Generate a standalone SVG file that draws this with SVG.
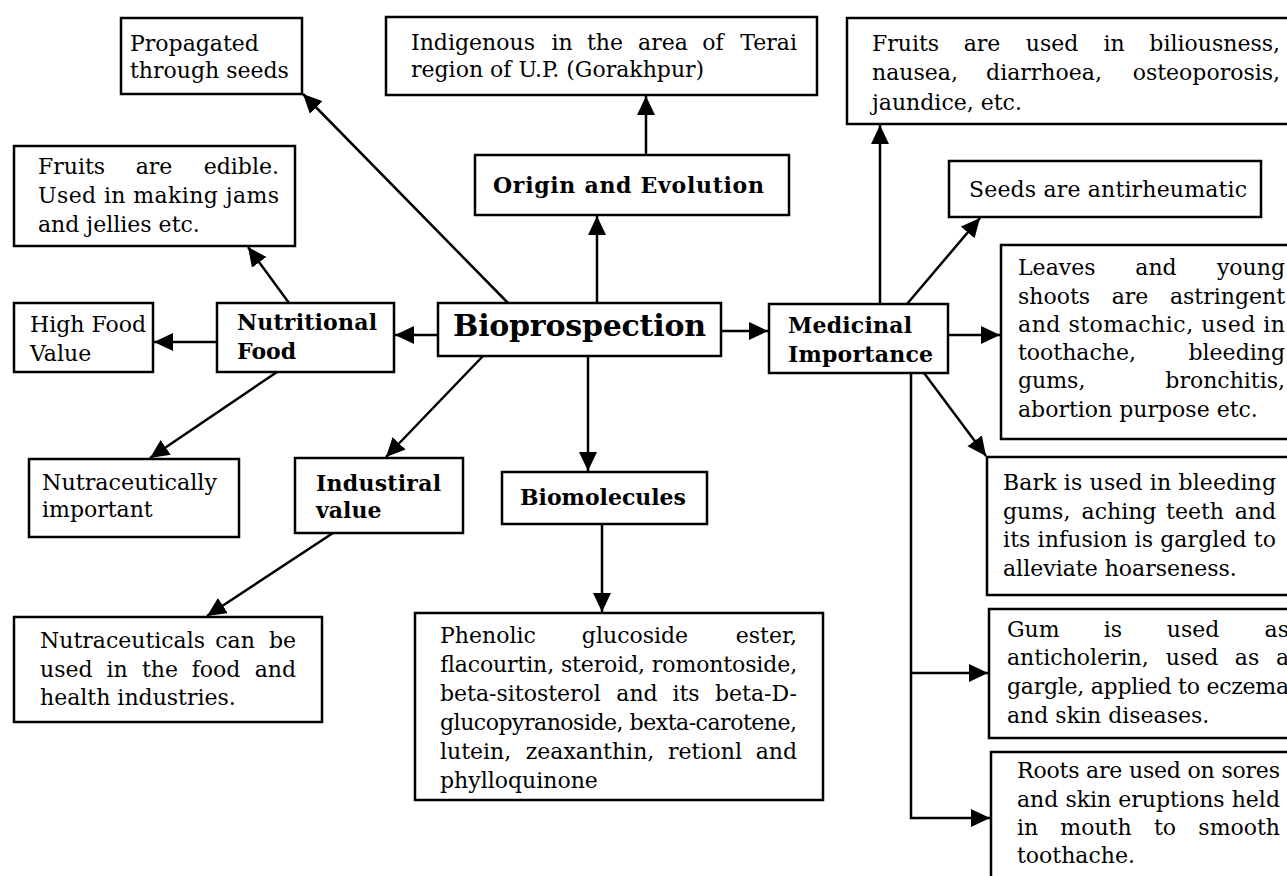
<svg xmlns="http://www.w3.org/2000/svg" width="1287" height="876" viewBox="0 0 1287 876">
<style>
.box{fill:#fff;stroke:#000;stroke-width:2.5}
.t{font-family:"DejaVu Serif","Liberation Serif",serif;font-size:22px;fill:#000}
.b{font-weight:bold;font-size:22px}
.big{font-weight:bold;font-size:30px}
.m{text-anchor:middle}
.e{text-anchor:end}
.c{fill:none;stroke:#000;stroke-width:2.5}
</style>
<defs>
<marker id="ah" markerUnits="userSpaceOnUse" markerWidth="22" markerHeight="22" refX="19" refY="9" orient="auto">
<path d="M0,0 L19,9 L0,18 Z" fill="#000"/>
</marker>
</defs>
<rect width="1287" height="876" fill="#fff"/>
<g id="connectors">
<path class="c" marker-end="url(#ah)" d="M508,303 L303,94"/>
<path class="c" marker-end="url(#ah)" d="M597,303 L597,216"/>
<path class="c" marker-end="url(#ah)" d="M646,155 L646,96"/>
<path class="c" marker-end="url(#ah)" d="M438,335 L395,335"/>
<path class="c" marker-end="url(#ah)" d="M217,342 L154,342"/>
<path class="c" marker-end="url(#ah)" d="M289,303 L248,247"/>
<path class="c" marker-end="url(#ah)" d="M277,372 L150,458"/>
<path class="c" marker-end="url(#ah)" d="M483,356 L386,457"/>
<path class="c" marker-end="url(#ah)" d="M333,533 L207,616"/>
<path class="c" marker-end="url(#ah)" d="M588,356 L588,471"/>
<path class="c" marker-end="url(#ah)" d="M602,524 L602,612"/>
<path class="c" marker-end="url(#ah)" d="M721,331 L768,331"/>
<path class="c" marker-end="url(#ah)" d="M880,304 L880,125"/>
<path class="c" marker-end="url(#ah)" d="M907,304 L980,218"/>
<path class="c" marker-end="url(#ah)" d="M948,335 L1000,335"/>
<path class="c" marker-end="url(#ah)" d="M924,373 L986,456"/>
<path class="c" marker-end="url(#ah)" d="M911,373 L911,818 L990,818"/>
<path class="c" marker-end="url(#ah)" d="M911,673 L988,673"/>
</g>
<g id="n-propagated">
<rect class="box" x="121" y="18" width="181" height="76"/>
<text class="t" x="130" y="51">Propagated</text>
<text class="t" x="130" y="78">through seeds</text>
</g>
<g id="n-fruits-edible">
<rect class="box" x="14" y="146" width="281" height="100"/>
<text class="t" x="38" y="174">Fruits</text>
<text class="t m" x="154" y="174">are</text>
<text class="t e" x="279" y="174">edible.</text>
<text class="t" x="38" y="203" textLength="241" lengthAdjust="spacing">Used in making jams</text>
<text class="t" x="38" y="232">and jellies etc.</text>
</g>
<g id="n-indigenous">
<rect class="box" x="386" y="17" width="431" height="78"/>
<text class="t" x="411" y="50">Indigenous</text>
<text class="t m" x="562" y="50">in</text>
<text class="t m" x="605" y="50">the</text>
<text class="t m" x="663" y="50">area</text>
<text class="t m" x="713" y="50">of</text>
<text class="t e" x="797" y="50">Terai</text>
<text class="t" x="411" y="77">region of U.P. (Gorakhpur)</text>
</g>
<g id="n-origin">
<rect class="box" x="475" y="155" width="314" height="60"/>
<text class="t b" x="493" y="193" textLength="271" lengthAdjust="spacing">Origin and Evolution</text>
</g>
<g id="n-fruits-medicinal">
<rect class="box" x="847" y="18" width="460" height="106"/>
<text class="t" x="872" y="51">Fruits</text>
<text class="t m" x="982" y="51">are</text>
<text class="t m" x="1052" y="51">used</text>
<text class="t m" x="1114" y="51">in</text>
<text class="t e" x="1280" y="51">biliousness,</text>
<text class="t" x="872" y="80">nausea,</text>
<text class="t m" x="1044" y="80">diarrhoea,</text>
<text class="t e" x="1280" y="80">osteoporosis,</text>
<text class="t" x="872" y="110">jaundice, etc.</text>
</g>
<g id="n-seeds">
<rect class="box" x="949" y="161" width="312" height="56"/>
<text class="t" x="969" y="197" textLength="278" lengthAdjust="spacing">Seeds are antirheumatic</text>
</g>
<g id="n-high-food">
<rect class="box" x="14" y="303" width="139" height="69"/>
<text class="t" x="30" y="332">High Food</text>
<text class="t" x="30" y="361">Value</text>
</g>
<g id="n-nutritional">
<rect class="box" x="217" y="303" width="177" height="69"/>
<text class="t b" x="237" y="330" textLength="140" lengthAdjust="spacing">Nutritional</text>
<text class="t b" x="237" y="359">Food</text>
</g>
<g id="n-bioprospection">
<rect class="box" x="438" y="303" width="283" height="53"/>
<text class="t big" x="453" y="336" textLength="253" lengthAdjust="spacing">Bioprospection</text>
</g>
<g id="n-medicinal">
<rect class="box" x="769" y="304" width="179" height="69"/>
<text class="t b" x="788" y="333" textLength="124" lengthAdjust="spacing">Medicinal</text>
<text class="t b" x="788" y="362" textLength="145" lengthAdjust="spacing">Importance</text>
</g>
<g id="n-leaves">
<rect class="box" x="1001" y="245" width="300" height="194"/>
<text class="t" x="1018" y="275">Leaves</text>
<text class="t m" x="1156" y="275">and</text>
<text class="t e" x="1285" y="275">young</text>
<text class="t" x="1018" y="304">shoots</text>
<text class="t m" x="1130" y="304">are</text>
<text class="t e" x="1285" y="304">astringent</text>
<text class="t" x="1018" y="332" textLength="267" lengthAdjust="spacing">and stomachic, used in</text>
<text class="t" x="1018" y="360">toothache,</text>
<text class="t e" x="1285" y="360">bleeding</text>
<text class="t" x="1018" y="388">gums,</text>
<text class="t e" x="1285" y="388">bronchitis,</text>
<text class="t" x="1018" y="417">abortion purpose etc.</text>
</g>
<g id="n-nutraceutically">
<rect class="box" x="29" y="459" width="210" height="78"/>
<text class="t" x="42" y="490" textLength="175" lengthAdjust="spacingAndGlyphs">Nutraceutically</text>
<text class="t" x="42" y="517">important</text>
</g>
<g id="n-industrial">
<rect class="box" x="295" y="458" width="168" height="75"/>
<text class="t b" x="316" y="491" textLength="125" lengthAdjust="spacing">Industiral</text>
<text class="t b" x="316" y="518">value</text>
</g>
<g id="n-biomolecules">
<rect class="box" x="502" y="472" width="205" height="52"/>
<text class="t b" x="520" y="505" textLength="166" lengthAdjust="spacing">Biomolecules</text>
</g>
<g id="n-bark">
<rect class="box" x="987" y="457" width="310" height="138"/>
<text class="t" x="1003" y="490" textLength="273" lengthAdjust="spacing">Bark is used in bleeding</text>
<text class="t" x="1003" y="519">gums,</text>
<text class="t m" x="1119" y="519">aching</text>
<text class="t m" x="1195" y="519">teeth</text>
<text class="t e" x="1276" y="519">and</text>
<text class="t" x="1003" y="547" textLength="273" lengthAdjust="spacing">its infusion is gargled to</text>
<text class="t" x="1003" y="576">alleviate hoarseness.</text>
</g>
<g id="n-gum">
<rect class="box" x="989" y="609" width="310" height="129"/>
<text class="t" x="1007" y="637">Gum</text>
<text class="t m" x="1113" y="637">is</text>
<text class="t m" x="1193" y="637">used</text>
<text class="t e" x="1289" y="637">as</text>
<text class="t" x="1007" y="665">anticholerin,</text>
<text class="t m" x="1192" y="665">used</text>
<text class="t m" x="1247" y="665">as</text>
<text class="t e" x="1289" y="665">a</text>
<text class="t" x="1007" y="694" textLength="282" lengthAdjust="spacing">gargle, applied to eczema</text>
<text class="t" x="1007" y="723">and skin diseases.</text>
</g>
<g id="n-roots">
<rect class="box" x="991" y="752" width="310" height="140"/>
<text class="t" x="1017" y="778" textLength="263" lengthAdjust="spacing">Roots are used on sores</text>
<text class="t" x="1017" y="807" textLength="263" lengthAdjust="spacing">and skin eruptions held</text>
<text class="t" x="1017" y="835">in</text>
<text class="t m" x="1096" y="835">mouth</text>
<text class="t m" x="1165" y="835">to</text>
<text class="t e" x="1280" y="835">smooth</text>
<text class="t" x="1017" y="863">toothache.</text>
</g>
<g id="n-nutraceuticals">
<rect class="box" x="14" y="617" width="308" height="105"/>
<text class="t" x="40" y="648">Nutraceuticals</text>
<text class="t m" x="235" y="648">can</text>
<text class="t e" x="296" y="648">be</text>
<text class="t" x="40" y="677">used</text>
<text class="t m" x="117" y="677">in</text>
<text class="t m" x="160" y="677">the</text>
<text class="t m" x="216" y="677">food</text>
<text class="t e" x="296" y="677">and</text>
<text class="t" x="40" y="705">health industries.</text>
</g>
<g id="n-phenolic">
<rect class="box" x="415" y="613" width="408" height="187"/>
<text class="t" x="440" y="643">Phenolic</text>
<text class="t m" x="635" y="643">glucoside</text>
<text class="t e" x="797" y="643">ester,</text>
<text class="t" x="440" y="672" textLength="357" lengthAdjust="spacing">flacourtin, steroid, romontoside,</text>
<text class="t" x="440" y="701">beta-sitosterol</text>
<text class="t m" x="637" y="701">and</text>
<text class="t m" x="686" y="701">its</text>
<text class="t e" x="797" y="701">beta-D-</text>
<text class="t" x="440" y="730" textLength="357" lengthAdjust="spacing">glucopyranoside, bexta-carotene,</text>
<text class="t" x="440" y="759">lutein,</text>
<text class="t m" x="590" y="759">zeaxanthin,</text>
<text class="t m" x="705" y="759">retionl</text>
<text class="t e" x="797" y="759">and</text>
<text class="t" x="440" y="788">phylloquinone</text>
</g>
</svg>
